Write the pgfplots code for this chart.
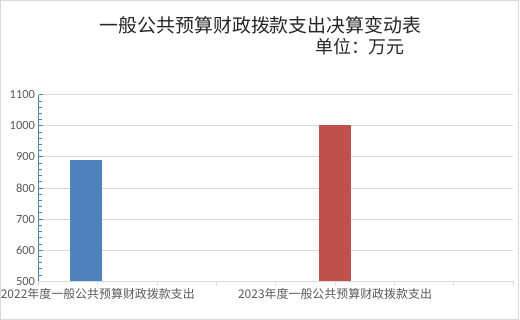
\documentclass[border=0pt]{standalone}
\usepackage{pgfplots}
\pgfplotsset{compat=1.18}
\usepackage{fontspec}
\setmainfont{Carlito}
\newfontfamily\cjk{Noto Sans CJK SC}
\definecolor{bblue}{HTML}{4F81BD}
\definecolor{bred}{HTML}{C0504D}
\definecolor{gridc}{HTML}{D9D9D9}
\definecolor{tickc}{HTML}{595959}
\begin{document}
\begin{tikzpicture}
\useasboundingbox (0,0) rectangle (520bp,320bp);
\draw[gridc, line width=0.8pt] (0.5bp,0.5bp) rectangle (518.5bp,319.5bp);
\node[font=\cjk\fontsize{19}{22}\selectfont, text=black!85, inner sep=0pt] at (260.5bp,295bp) {一般公共预算财政拨款支出决算变动表};
\node[font=\cjk\fontsize{18}{22}\selectfont, text=black!85, inner sep=0pt] at (360bp,273bp) {单位：万元};
\begin{axis}[
  at={(38.5bp,38.7bp)}, anchor=south west, scale only axis,
  width=474.5bp, height=186.6bp,
  xmin=0, xmax=8, ymin=500, ymax=1100,
  ytick={500,600,...,1100}, minor y tick num=4,
  xtick={0,...,8},
  xticklabels={,{2022年度一般公共预算财政拨款支出},,,,{2023年度一般公共预算财政拨款支出},,,},
  axis x line*=bottom, axis y line*=left,
  x axis line style={gridc, line width=0.8pt},
  y axis line style={bblue, line width=0.8pt},
  ymajorgrids, grid style={gridc, line width=0.8pt},
  ytick style={bblue, line width=0.8pt},
  xtick style={gridc, line width=0.8pt},
  major tick length=4bp, minor tick length=3bp,
  ytick align=inside, xtick align=outside,
  yticklabel style={font=\fontsize{12.5}{14}\selectfont, text=tickc},
  xticklabel style={font=\cjk\fontsize{12}{14}\selectfont, text=tickc},
  /pgf/number format/assume math mode=true,
  /pgf/number format/1000 sep={},
]
\addplot[ybar, bar width=32bp, bar shift=0pt, fill=bblue, draw=none] coordinates {(0.8,891)};
\addplot[ybar, bar width=32bp, bar shift=0pt, fill=bred, draw=none] coordinates {(5,1003)};
\end{axis}
\end{tikzpicture}
\end{document}
